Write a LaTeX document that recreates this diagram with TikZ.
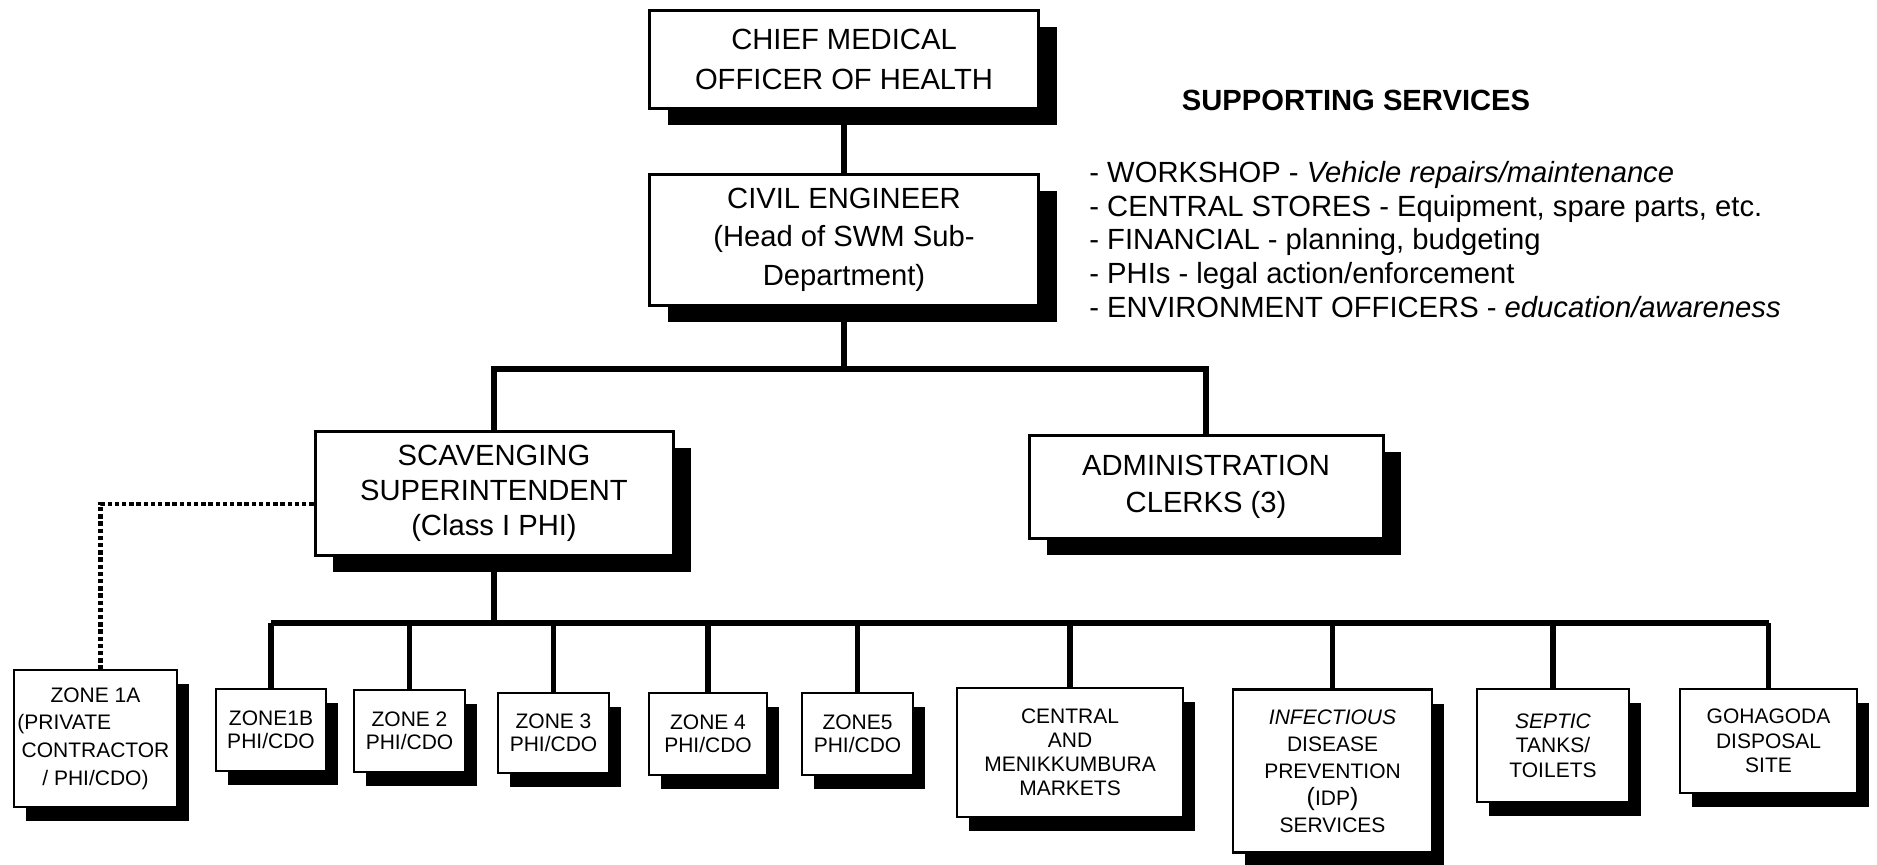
\documentclass[tikz,border=0pt]{standalone}
\usepackage{fontspec}
\setmainfont{Liberation Sans}
\usetikzlibrary{shadows}

\begin{document}
\begin{tikzpicture}[x=0.5pt, y=-0.5pt,
	box/.style={draw, line width=1.5pt, fill=white, align=center, inner sep=0pt},
	post/.style={box, font=\fontsize{14.6}{19.5}\selectfont, drop shadow={shadow xshift=9pt, shadow yshift=-8.5pt, fill=black, opacity=1}},
	unit/.style={box, line width=1.3pt, font=\fontsize{10.5}{11.5}\selectfont, drop shadow={shadow xshift=6pt, shadow yshift=-7pt, fill=black, opacity=1}},
	conn/.style={line width=2.6pt},
	dotline/.style={line width=2.4pt, dash pattern=on 2.2pt off 1.4pt}]
	\useasboundingbox (0,0) rectangle (1877,864);

	% Management
	\node[post, minimum width=194.5pt, minimum height=49pt, font=\fontsize{14.6}{20}\selectfont] (cmoh) at (844,59) {CHIEF MEDICAL\\OFFICER OF HEALTH};
	\node[post, minimum width=194.5pt, minimum height=65.5pt, font=\fontsize{14.6}{19.3}\selectfont] (ce) at (844,239.5) {CIVIL ENGINEER\\(Head of SWM Sub-\\Department)};
	\node[post, minimum width=179pt, minimum height=62pt, font=\fontsize{14.6}{17.5}\selectfont] (scav) at (494,493) {SCAVENGING\\SUPERINTENDENT\\(Class I PHI)};
	\node[post, minimum width=177pt, minimum height=51.5pt, font=\fontsize{14.6}{18.5}\selectfont] (admin) at (1206,486.5) {ADMINISTRATION\\CLERKS (3)};

	% Supporting services
	\node[font=\bfseries\fontsize{14.6}{17}\selectfont] (supp) at (1356,100) {SUPPORTING SERVICES};
	\node[anchor=west, align=left, inner sep=0pt, font=\fontsize{14.6}{16.8}\selectfont] (supplist) at (1089,239.5) {- WORKSHOP - \textit{Vehicle repairs/maintenance}\\
		- CENTRAL STORES - Equipment, spare parts, etc.\\
		- FINANCIAL - planning, budgeting\\
		- PHIs - legal action/enforcement\\
		- ENVIRONMENT OFFICERS - \textit{education/awareness}};

	% Zones and services
	\node[unit, minimum width=81.5pt, minimum height=68.5pt, font=\fontsize{10.5}{13.8}\selectfont] (zone1a) at (95.5,738.5) {ZONE 1A\\\makebox[78pt][l]{(PRIVATE}\\CONTRACTOR\\/ PHI/CDO)};
	\node[unit, minimum width=55pt, minimum height=41pt] (zone1b) at (271,730) {ZONE1B\\PHI/CDO};
	\node[unit, minimum width=55.5pt, minimum height=41pt] (zone2) at (409.5,731) {ZONE 2\\PHI/CDO};
	\node[unit, minimum width=55.5pt, minimum height=40pt] (zone3) at (553.5,733) {ZONE 3\\PHI/CDO};
	\node[unit, minimum width=59pt, minimum height=41pt] (zone4) at (708,734) {ZONE 4\\PHI/CDO};
	\node[unit, minimum width=55.5pt, minimum height=41pt] (zone5) at (857.5,734) {ZONE5\\PHI/CDO};
	\node[unit, minimum width=113pt, minimum height=64.5pt, font=\fontsize{10.5}{12}\selectfont] (central) at (1070,752.5) {CENTRAL\\AND\\MENIKKUMBURA\\MARKETS};
	\node[unit, minimum width=99.5pt, minimum height=81.5pt, font=\fontsize{10.5}{13.5}\selectfont] (idp) at (1332.5,771) {\textit{INFECTIOUS}\\DISEASE\\PREVENTION\\{\fontsize{12.5}{12.5}\selectfont(}IDP{\fontsize{12.5}{12.5}\selectfont)}\\SERVICES};
	\node[unit, minimum width=76pt, minimum height=56.5pt, font=\fontsize{10.5}{12.3}\selectfont] (septic) at (1553,745.5) {\textit{SEPTIC}\\TANKS/\\TOILETS};
	\node[unit, minimum width=88.5pt, minimum height=52pt, font=\fontsize{10.5}{12.3}\selectfont] (goha) at (1768.5,741) {GOHAGODA\\DISPOSAL\\SITE};

	% Connectors
	\coordinate (topbar) at (844,369);
	\coordinate (zonebar) at (494,623);
	\draw[conn] (cmoh) -- (ce);
	\draw[conn] (ce) -- (topbar);
	\draw[conn] (scav.north) |- (topbar) -| (admin.north);
	\draw[conn] (scav) -- (zonebar);
	\draw[conn] (zone1b.north |- zonebar) -- (goha.north |- zonebar);
	\foreach \z in {zone1b, zone2, zone3, zone4, zone5, central, idp, septic, goha}
		\draw[conn] (\z.north |- zonebar) -- (\z.north);
	\draw[dotline] ([yshift=-5.5pt]scav.west) -| ([xshift=2.5pt]zone1a.north);
\end{tikzpicture}
\end{document}
